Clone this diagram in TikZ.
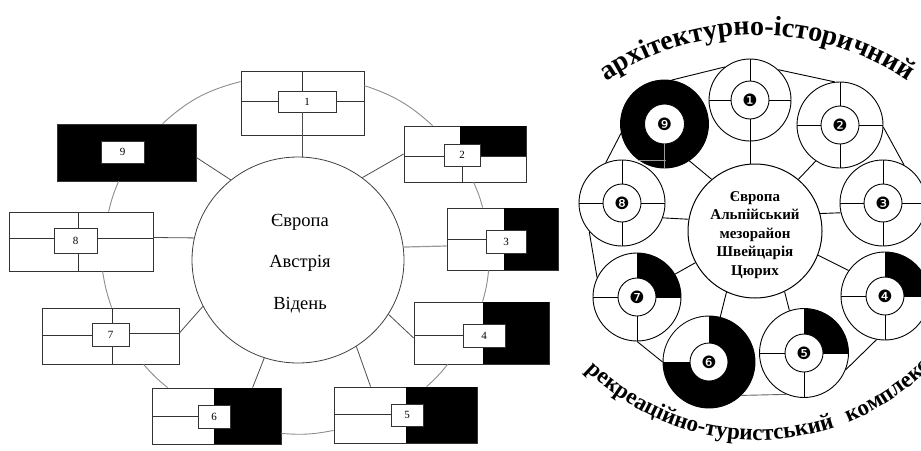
\documentclass[tikz,border=0pt]{standalone}
\usepackage{fontspec}
\setmainfont{Liberation Serif}
\newfontfamily\dejavu{DejaVu Sans}
\usetikzlibrary{shapes.geometric,calc,decorations.text}
\begin{document}
\begin{tikzpicture}[x=1pt,y=-1pt,
  box/.style={draw=black!80,line width=0.8pt,fill=white,rectangle,inner sep=0pt},
  lbl/.style={draw=black!80,line width=0.8pt,fill=white,rectangle,inner sep=0pt,font=\fontsize{11}{11}\selectfont},
  ringline/.style={draw=black!45,line width=0.9pt},
  spoke/.style={draw=black!70,line width=0.8pt},
  inl/.style={draw=black!80,line width=0.8pt},
  ocirc/.style={circle,draw=black,line width=0.9pt,inner sep=0pt},
  icirc/.style={circle,draw=black,line width=0.9pt,fill=white,inner sep=0pt,minimum size=38pt,font=\dejavu\fontsize{17}{17}\selectfont},
  rline/.style={draw=black,line width=0.9pt},
  faint/.style={draw=black!40,line width=0.8pt}
]
\useasboundingbox (0,0) rectangle (921,450);

% ================= LEFT DIAGRAM =================
\node[ellipse,draw=black!75,line width=0.8pt,minimum width=212pt,minimum height=206pt,inner sep=0pt] (C) at (298,260) {};
\node[font=\fontsize{18.5}{41.5}\selectfont,align=center] (Ct) at (300,263.5) {Європа\\Австрія\\Відень};

% box 1
\node[box,minimum width=123pt,minimum height=64pt] (b1) at (302.5,103) {};
\draw[inl] (302,71)--(302,91) (241,101)--(278,101) (336,101)--(364,101);
\node[lbl,minimum width=58pt,minimum height=21pt] (l1) at (307,101.5) {1};
% box 2
\node[box,minimum width=122pt,minimum height=56pt] (b2) at (465,154) {};
\fill (460,126) rectangle (526,156);
\draw[inl] (404,156)--(526,156) (462,166)--(462,182);
\node[lbl,minimum width=36pt,minimum height=22pt] (l2) at (462,155) {2};
% box 3
\node[box,minimum width=111pt,minimum height=62pt] (b3) at (502.5,239) {};
\fill (504,208) rectangle (558,270);
\draw[inl] (447,239)--(486,239);
\node[lbl,minimum width=40pt,minimum height=23pt] (l3) at (506,241.5) {3};
% box 4
\node[box,minimum width=135pt,minimum height=62pt] (b4) at (481.5,333) {};
\fill (483,302) rectangle (549,364);
\draw[inl] (414,335)--(463,335);
\node[lbl,minimum width=42pt,minimum height=23pt] (l4) at (484,335.5) {4};
% box 5
\node[box,minimum width=143pt,minimum height=56pt] (b5) at (405.5,415) {};
\fill (406,387) rectangle (477,443);
\draw[inl] (334,414)--(391,414);
\node[lbl,minimum width=32pt,minimum height=22pt] (l5) at (407,415) {5};
% box 6
\node[box,minimum width=129pt,minimum height=56pt] (b6) at (216.5,416) {};
\fill (214,388) rectangle (281,444);
\draw[inl] (152,416)--(198,416);
\node[lbl,minimum width=32pt,minimum height=23pt] (l6) at (214,416.5) {6};
% box 7
\node[box,minimum width=137pt,minimum height=56pt] (b7) at (110.5,336) {};
\draw[inl] (42,335)--(92,335) (129,333)--(179,333) (112,308)--(112,323) (112,346)--(112,364);
\node[lbl,minimum width=37pt,minimum height=23pt] (l7) at (110.5,334.5) {7};
% box 8
\node[box,minimum width=144pt,minimum height=59pt] (b8) at (81,241.5) {};
\draw[inl] (78,212)--(78,228) (9,238)--(54,238) (97,238)--(153,238) (78,253)--(78,271);
\node[lbl,minimum width=43pt,minimum height=25pt] (l8) at (75.5,240.5) {8};
% box 9
\node[box,fill=black,minimum width=139pt,minimum height=57pt] (b9) at (126.5,152.5) {};
\node[lbl,minimum width=43pt,minimum height=22pt] (l9) at (122.5,152) {9};

% spokes
\coordinate (s1) at ([xshift=-5pt]l1.south);
\draw[spoke] (s1) -- (s1 |- C.north);
\draw[spoke] (C.52) -- (b2.west);
\draw[spoke,black!40,line width=1.2pt] (C.7) -- ($(b3.west)+(0,7)$);
\draw[spoke] (C.-31) -- ($(b4.west)+(0,5)$);
\draw[spoke] (C.-56) -- ($(b5.north west)+(37,0)$);
\draw[spoke] (C.-109) -- ($(b6.north west)+(101,0)$);
\draw[spoke] (C.206) -- ($(b7.east)+(0,-3)$);
\draw[spoke] (C.168) -- ($(b8.east)+(0,-4)$);
\draw[spoke] (C.130) -- ($(b9.east)+(0,5)$);

% ring
\draw[ringline] ($(b9.north west)+(106,0)$) to[bend left=14] ($(b1.north west)+(0,11)$);
\draw[ringline] ($(b1.north east)+(0,15)$) to[bend left=12] ($(b2.north west)+(29,0)$);
\draw[ringline] ($(b2.south west)+(70,0)$) to[bend left=5] ($(b3.north west)+(36,0)$);
\draw[ringline] ($(b3.south west)+(42,0)$) to[bend left=5] ($(b4.north west)+(69,0)$);
\draw[ringline] ($(b4.south west)+(34,0)$) to[bend left=5] ($(b5.north west)+(93,0)$);
\draw[ringline] ($(b5.south west)+(0,-13)$) to[bend left=8] ($(b6.south east)+(0,-11)$);
\draw[ringline] ($(b6.north west)+(16,0)$) to[bend left=5] ($(b7.south west)+(102,0)$);
\draw[ringline] ($(b7.north west)+(70,0)$) to[bend left=5] ($(b8.south west)+(94,0)$);
\draw[ringline] ($(b8.north west)+(100,0)$) to[bend left=5] ($(b9.south west)+(62,0)$);

% ================= RIGHT DIAGRAM =================
\node[circle,draw=black,line width=1pt,minimum size=134pt,inner sep=0pt] (R) at (755,231) {};
\node[font=\bfseries\fontsize{15}{18.5}\selectfont,align=center] (Rt) at (755,235) {Європа\\Альпійський\\мезорайон\\Швейцарія\\Цюрих};

% circle 1
\node[ocirc,minimum size=82pt] (c1) at (750,100) {};
\node[icirc] (n1) at (c1) {❶};
\draw[rline] (n1.north)--(c1.north) (n1.east)--(c1.east) (n1.south)--(c1.south) (n1.west)--(c1.west);
% circle 2
\node[ocirc,minimum size=86pt] (c2) at (840,125) {};
\node[icirc] (n2) at (c2) {❷};
\draw[rline] (n2.north)--(c2.north) (n2.east)--(c2.east) (n2.south)--(c2.south) (n2.west)--(c2.west);
% circle 3
\node[ocirc,minimum size=86pt] (c3) at (883,203) {};
\node[icirc] (n3) at (c3) {❸};
\draw[rline] (n3.north)--(c3.north) (n3.east)--(c3.east) (n3.south)--(c3.south) (n3.west)--(c3.west);
% circle 4
\node[ocirc,minimum size=88pt] (c4) at (885,296) {};
\begin{scope}\clip (c4.center) rectangle ++(60,-60); \fill (c4.center) circle (44);\end{scope}
\node[icirc] (n4) at (c4) {❹};
\draw[rline] (n4.south)--(c4.south) (n4.west)--(c4.west);
% circle 5
\node[ocirc,minimum size=89pt] (c5) at (804,353) {};
\begin{scope}\clip (c5.center) rectangle ++(60,-60); \fill (c5.center) circle (44.5);\end{scope}
\node[icirc] (n5) at (c5) {❺};
\draw[rline] (n5.south)--(c5.south) (n5.west)--(c5.west);
% circle 6
\node[ocirc,fill=black,minimum size=92pt] (c6) at (709,362) {};
\begin{scope}\clip (c6.center) rectangle ++(-60,-60); \fill[white] (c6.center) circle (45.5);\end{scope}
\node[icirc] (n6) at (c6) {❻};
\draw[rline] (n6.north)--(c6.north) (n6.west)--(c6.west);
% circle 7
\node[ocirc,minimum size=88pt] (c7) at (637,297) {};
\begin{scope}\clip (c7.center) rectangle ++(60,-60); \fill (c7.center) circle (44);\end{scope}
\node[icirc] (n7) at (c7) {❼};
\draw[rline] (n7.south)--(c7.south) (n7.west)--(c7.west);
% circle 8
\node[ocirc,minimum size=86pt] (c8) at (622,203) {};
\node[icirc] (n8) at (c8) {❽};
\draw[rline] (n8.north)--(c8.north) (n8.east)--(c8.east) (n8.south)--(c8.south) (n8.west)--(c8.west);
% circle 9
\node[ocirc,fill=black,minimum size=88pt] (c9) at (664.5,124) {};
\node[icirc,minimum size=40pt] (n9) at (c9) {❾};
\draw[faint] (638,160)--(666,160) (n9.south)--(c9.south);

% spokes
\draw[rline] (c1.south) -- (c1.south |- R.north);
\draw[rline] (R.50) -- (c2.236);
\draw[rline] (R.15) -- (c3.193);
\draw[rline] (R.-21) -- (c4.145);
\draw[rline] (R.-64) -- (c5.109);
\draw[rline] (R.-115) -- (c6.76);
\draw[rline] (R.208) -- (c7.31);
\draw[rline] (R.170) -- (c8.-20);
\draw[rline] (R.130) -- (c9.-56);

% ring connectors
\draw[rline] (c9.81) -- (c1.127);
\draw[rline] (c1.47) -- (c2.97);
\draw[rline] (c2.-3) -- (c3.61);
\draw[rline] (c4.259) -- (c5.-22);
\draw[rline,black!60] (c6.-46) -- (c5.247);
\draw[rline] (c6.west) -- (c7.south);
\draw[rline] (c7.154) -- (c8.221);
\draw[rline] (c8.112) -- (c9.192);

% arc texts
\begin{scope}[y=1pt]
\path[decorate,decoration={text along path,text align=center,
  text={|\bfseries\fontsize{28}{28}\selectfont|архітектурно-історичний}}]
  ($(757,-304)+(145:269)$) arc[start angle=145,end angle=35,radius=269];
\path[decorate,decoration={text along path,text align=left,
  text={|\bfseries\fontsize{23}{23}\selectfont|рекреаційно-туристський}}]
  ($(757,-196)+(225.5:244)$) arc[start angle=225.5,end angle=300,radius=244];
\path[decorate,decoration={text along path,text align=left,
  text={|\bfseries\fontsize{23}{23}\selectfont|комплекс}}]
  ($(757,-196)+(292:244)$) arc[start angle=292,end angle=350,radius=244];
\end{scope}
\end{tikzpicture}
\end{document}
